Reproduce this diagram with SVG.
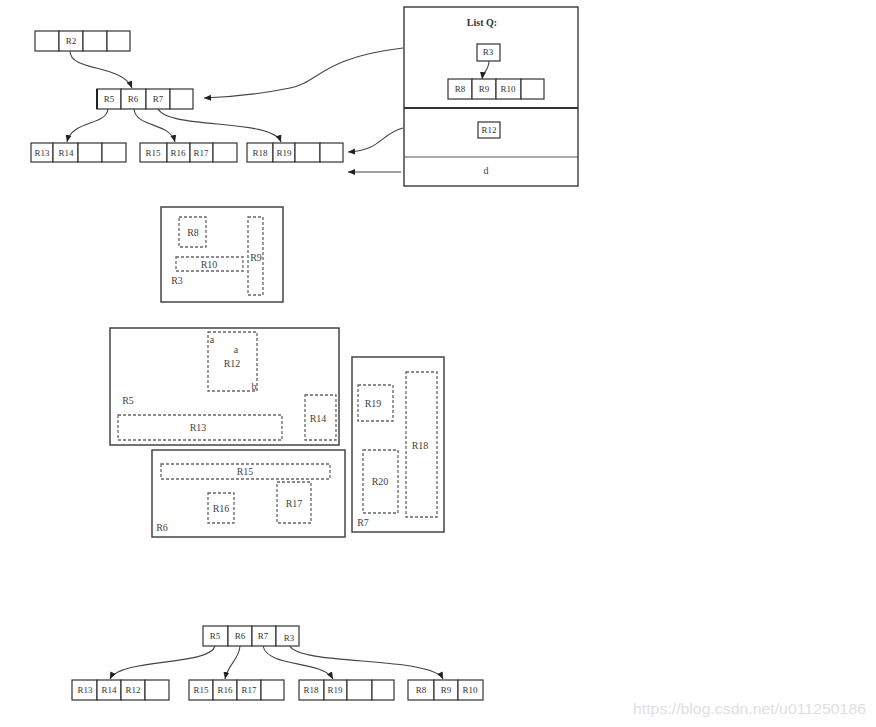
<svg xmlns="http://www.w3.org/2000/svg" width="876" height="727" viewBox="0 0 876 727">
<style>
.cell{fill:#fff;stroke:#333;stroke-width:1.2}
.frame{fill:#fff;stroke:#444;stroke-width:1.5}
.dash{fill:none;stroke:#666;stroke-width:1.3;stroke-dasharray:3,2}
.t{font-family:"Liberation Serif",serif;font-size:9px;fill:#333;text-anchor:middle;dominant-baseline:central}
.lb{font-family:"Liberation Serif",serif;font-size:10px;fill:#444;text-anchor:middle;dominant-baseline:central}
.edge{fill:none;stroke:#444;stroke-width:1.1}
</style>
<defs>
<marker id="ah" markerWidth="8" markerHeight="8" refX="7" refY="4" orient="auto" markerUnits="userSpaceOnUse">
<path d="M0,1 L7,4 L0,7 Z" fill="#222"/>
</marker>
</defs>
<rect width="876" height="727" fill="#fff"/>

<!-- top tree -->
<g id="nodeR2">
<rect class="cell" x="35" y="31" width="24" height="20"/><rect class="cell" x="59" y="31" width="24" height="20"/><rect class="cell" x="83" y="31" width="24" height="20"/><rect class="cell" x="107" y="31" width="23" height="20"/>
<text class="t" x="71" y="41">R2</text>
</g>
<g id="nodeR5R6R7">
<rect class="cell" x="97" y="89" width="24" height="20"/><rect class="cell" x="121" y="89" width="25" height="20"/><rect class="cell" x="146" y="89" width="24" height="20"/><rect class="cell" x="170" y="89" width="23" height="20"/>
<line x1="97" y1="89" x2="97" y2="109" stroke="#222" stroke-width="2"/>
<text class="t" x="109" y="99">R5</text><text class="t" x="133" y="99">R6</text><text class="t" x="158" y="99">R7</text>
</g>
<g id="nodeR13R14">
<rect class="cell" x="31" y="143" width="22" height="19"/><rect class="cell" x="53" y="143" width="25" height="19"/><rect class="cell" x="78" y="143" width="24" height="19"/><rect class="cell" x="102" y="143" width="24" height="19"/>
<text class="t" x="42" y="153">R13</text><text class="t" x="66" y="153">R14</text>
</g>
<g id="nodeR15R16R17">
<rect class="cell" x="140" y="143" width="27" height="19"/><rect class="cell" x="167" y="143" width="23" height="19"/><rect class="cell" x="190" y="143" width="23" height="19"/><rect class="cell" x="213" y="143" width="24" height="19"/>
<text class="t" x="153" y="153">R15</text><text class="t" x="178" y="153">R16</text><text class="t" x="201" y="153">R17</text>
</g>
<g id="nodeR18R19">
<rect class="cell" x="247" y="143" width="26" height="19"/><rect class="cell" x="273" y="143" width="22" height="19"/><rect class="cell" x="295" y="143" width="25" height="19"/><rect class="cell" x="320" y="143" width="23" height="19"/>
<text class="t" x="260" y="153">R18</text><text class="t" x="284" y="153">R19</text>
</g>

<!-- List Q -->
<g id="listQ">
<rect x="404" y="7" width="174" height="179" fill="#fff" stroke="#444" stroke-width="1.5"/>
<line x1="404" y1="108" x2="578" y2="108" stroke="#333" stroke-width="2"/>
<line x1="404" y1="157" x2="578" y2="157" stroke="#555" stroke-width="1.2"/>
<text x="482" y="22" font-family="Liberation Serif,serif" font-size="10" font-weight="bold" fill="#333" text-anchor="middle" dominant-baseline="central">List Q:</text>
<rect class="cell" x="477" y="44" width="23" height="17"/><text class="t" x="488" y="52">R3</text>
<rect class="cell" x="448" y="79" width="24" height="20"/><rect class="cell" x="472" y="79" width="24" height="20"/><rect class="cell" x="496" y="79" width="25" height="20"/><rect class="cell" x="521" y="79" width="23" height="20"/>
<text class="t" x="460" y="89">R8</text><text class="t" x="484" y="89">R9</text><text class="t" x="508" y="89">R10</text>
<rect class="cell" x="478" y="122" width="22" height="16" stroke-width="1.6"/><text class="t" x="489" y="130">R12</text>
<text class="lb" x="486" y="170" font-size="11">d</text>
</g>

<!-- R3 region -->
<g id="regionR3">
<rect class="frame" x="161" y="207" width="122" height="95"/>
<rect class="dash" x="179" y="217" width="27" height="30"/><text class="lb" x="193" y="232" fill="#777">R8</text>
<rect class="dash" x="176" y="257" width="67" height="14"/><text class="lb" x="209" y="264" fill="#777">R10</text>
<rect class="dash" x="248" y="217" width="15" height="78"/><text class="lb" x="256" y="257" fill="#777">R9</text>
<text class="lb" x="177" y="280" fill="#777">R3</text>
</g>

<!-- R5 region -->
<g id="regionR5">
<rect class="frame" x="110" y="328" width="229" height="117"/>
<rect class="dash" x="208" y="332" width="49" height="59"/>
<text class="lb" x="212" y="339" font-size="9">a</text>
<text class="lb" x="236" y="349" font-size="6">a</text>
<text class="lb" x="232" y="363">R12</text>
<text class="lb" x="254" y="386" font-size="9">b</text>
<text class="lb" x="128" y="400">R5</text>
<rect class="dash" x="118" y="415" width="164" height="25"/><text class="lb" x="198" y="427">R13</text>
<rect class="dash" x="305" y="395" width="31" height="45"/><text class="lb" x="318" y="418">R14</text>
</g>

<!-- R6 region -->
<g id="regionR6">
<rect class="frame" x="152" y="450" width="193" height="87"/>
<rect class="dash" x="161" y="464" width="169" height="15"/><text class="lb" x="245" y="471">R15</text>
<rect class="dash" x="208" y="493" width="26" height="30"/><text class="lb" x="221" y="508">R16</text>
<rect class="dash" x="277" y="482" width="34" height="41"/><text class="lb" x="294" y="503">R17</text>
<text class="lb" x="162" y="527">R6</text>
</g>

<!-- R7 region -->
<g id="regionR7">
<rect class="frame" x="352" y="357" width="92" height="175"/>
<rect class="dash" x="358" y="385" width="35" height="36"/><text class="lb" x="373" y="403">R19</text>
<rect class="dash" x="406" y="372" width="31" height="145"/><text class="lb" x="420" y="445">R18</text>
<rect class="dash" x="363" y="450" width="35" height="63"/><text class="lb" x="380" y="481">R20</text>
<text class="lb" x="363" y="522">R7</text>
</g>

<!-- bottom tree -->
<g id="nodeRoot2">
<rect class="cell" x="203" y="626" width="25" height="20"/><rect class="cell" x="228" y="626" width="24" height="20"/><rect class="cell" x="252" y="626" width="24" height="20"/><rect class="cell" x="276" y="626" width="23" height="20"/>
<text class="t" x="215" y="636">R5</text><text class="t" x="240" y="636">R6</text><text class="t" x="263" y="636">R7</text><text class="t" x="289" y="638">R3</text>
</g>
<g id="nodeB1">
<rect class="cell" x="72" y="680" width="25" height="20"/><rect class="cell" x="97" y="680" width="24" height="20"/><rect class="cell" x="121" y="680" width="24" height="20"/><rect class="cell" x="145" y="680" width="24" height="20"/>
<text class="t" x="85" y="690">R13</text><text class="t" x="109" y="690">R14</text><text class="t" x="133" y="690">R12</text>
</g>
<g id="nodeB2">
<rect class="cell" x="189" y="680" width="24" height="20"/><rect class="cell" x="213" y="680" width="24" height="20"/><rect class="cell" x="237" y="680" width="24" height="20"/><rect class="cell" x="261" y="680" width="23" height="20"/>
<text class="t" x="201" y="690">R15</text><text class="t" x="225" y="690">R16</text><text class="t" x="249" y="690">R17</text>
</g>
<g id="nodeB3">
<rect class="cell" x="299" y="680" width="25" height="20"/><rect class="cell" x="324" y="680" width="23" height="20"/><rect class="cell" x="347" y="680" width="25" height="20"/><rect class="cell" x="372" y="680" width="22" height="20"/>
<text class="t" x="311" y="690">R18</text><text class="t" x="335" y="690">R19</text>
</g>
<g id="nodeB4">
<rect class="cell" x="408" y="680" width="26" height="20"/><rect class="cell" x="434" y="680" width="24" height="20"/><rect class="cell" x="458" y="680" width="25" height="20"/>
<text class="t" x="421" y="690">R8</text><text class="t" x="446" y="690">R9</text><text class="t" x="470" y="690">R10</text>
</g>

<g id="connectors">
<path class="edge" d="M70,51 C70,72 122,64 132,88" marker-end="url(#ah)"/>
<path class="edge" d="M108,109 C106,126 72,120 67,142" marker-end="url(#ah)"/>
<path class="edge" d="M134,109 C136,128 170,122 175,142" marker-end="url(#ah)"/>
<path class="edge" d="M158,109 C170,130 272,118 281,142" marker-end="url(#ah)"/>
<path class="edge" d="M403,48 C320,58 320,82 290,88 C260,94 235,97 204,98" marker-end="url(#ah)"/>
<path class="edge" d="M403,128 C380,134 382,150 348,152" marker-end="url(#ah)"/>
<path class="edge" d="M401,172 L348,172" marker-end="url(#ah)"/>
<path class="edge" d="M489,61 C489,70 483,72 482,79" marker-end="url(#ah)"/>
<path class="edge" d="M215,646 C210,666 120,658 110,679" marker-end="url(#ah)"/>
<path class="edge" d="M240,646 C239,660 228,664 225,679" marker-end="url(#ah)"/>
<path class="edge" d="M263,646 C268,668 322,660 333,679" marker-end="url(#ah)"/>
<path class="edge" d="M290,646 C300,666 432,656 443,679" marker-end="url(#ah)"/>
</g>

<text x="633" y="714" font-family="Liberation Sans,Arial,sans-serif" font-size="14" fill="#e0e0e0" textLength="233" lengthAdjust="spacingAndGlyphs">https://blog.csdn.net/u011250186</text>
</svg>
